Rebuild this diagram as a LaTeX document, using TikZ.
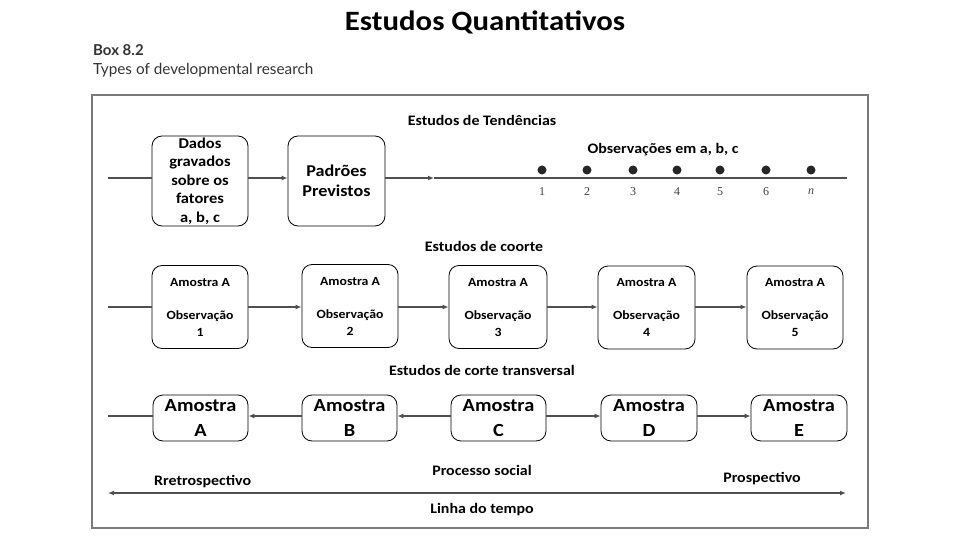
\documentclass[tikz,border=0pt]{standalone}
\usepackage{fontspec}
\setmainfont[FakeStretch=1.1]{Carlito}
\newfontfamily\boxfont{Lato}
\newfontfamily\numfont{Liberation Serif}
\usetikzlibrary{arrows.meta}
\definecolor{linegray}{HTML}{505050}
\definecolor{framegray}{HTML}{7A7A7A}
\definecolor{boxtxt}{HTML}{333333}
\begin{document}
\begin{tikzpicture}[x=1pt,y=-1pt,
  rbox/.style={draw=black, line width=0.8pt, rounded corners=10pt, align=center, inner sep=0pt},
  conn/.style={draw=linegray, line width=1.6pt},
  arr/.style={conn, -{Latex[length=6pt,width=5pt]}},
  lbl/.style={font=\bfseries\fontsize{14.5}{17}\selectfont, inner sep=0pt},
  dot/.style={circle, fill=black!85, inner sep=0pt, minimum size=9pt},
  num/.style={font=\numfont\fontsize{12}{14}\selectfont, inner sep=0pt, text=black!75},
  cohort/.style={rbox, minimum height=83pt, font=\bfseries\fontsize{12.5}{17}\selectfont},
  cross/.style={rbox, minimum height=46pt, font=\bfseries\fontsize{18.5}{25}\selectfont}
]
\useasboundingbox (0,0) rectangle (960,540);
% headings
\node[font=\bfseries\fontsize{28}{32}\selectfont, inner sep=0pt] (title) at (485,22) {Estudos Quantitativos};
\node[anchor=west, inner sep=0pt, font=\boxfont\bfseries\fontsize{15}{18}\selectfont, text=boxtxt] (boxno) at (93,50) {Box 8.2};
\node[anchor=west, inner sep=0pt, font=\boxfont\fontsize{15.3}{18}\selectfont, text=boxtxt] (boxtitle) at (93,70) {Types of developmental research};
% frame
\node[draw=framegray, line width=1.5pt, minimum width=776pt, minimum height=433pt, inner sep=0pt] (frame) at (480,311.5) {};

% ---- Estudos de Tendencias
\node[lbl] (trendt) at (482,120) {Estudos de Tendências};
\node[rbox, minimum width=96pt, minimum height=90pt, font=\bfseries\fontsize{15}{18.5}\selectfont] (dados) at (200,181) {Dados\\gravados\\sobre os\\fatores\\a, b, c};
\node[rbox, minimum width=97pt, minimum height=90pt, font=\bfseries\fontsize{16.5}{20}\selectfont] (padroes) at (336.5,181) {Padrões\\Previstos};
\coordinate (t0) at (108,178);
\coordinate (tmid) at (434,178);
\coordinate (tend) at (847,178);
\draw[conn] (t0) -- (t0 -| dados.west);
\draw[arr] (dados.east |- t0) -- (padroes.west |- t0);
\draw[arr] (padroes.east |- t0) -- (tmid);
\draw[conn] (tmid) -- (tend);
\node[lbl] (obs) at (663,150) {Observações em a, b, c};
\foreach \i/\x/\l in {1/542/1, 2/587/2, 3/633/3, 4/677/4, 5/720/5, 6/766/6, 7/811/\textit{n}} {
  \node[dot] (d\i) at (\x,170) {};
  \node[num] (n\i) at (\x,192) {\l};
}

% ---- Estudos de coorte
\node[lbl] (coortet) at (484,246) {Estudos de coorte};
\node[cohort, minimum width=96pt] (c1) at (200,307) {Amostra A\\[16pt]Observação\\1};
\node[cohort, minimum width=96pt] (c2) at (350,306) {Amostra A\\[16pt]Observação\\2};
\node[cohort, minimum width=98pt] (c3) at (498,307) {Amostra A\\[16pt]Observação\\3};
\node[cohort, minimum width=97pt] (c4) at (646.5,307.5) {Amostra A\\[16pt]Observação\\4};
\node[cohort, minimum width=96pt] (c5) at (795,307.5) {Amostra A\\[16pt]Observação\\5};
\coordinate (c0) at (108,307);
\draw[conn] (c0) -- (c0 -| c1.west);
\draw[arr] (c1.east |- c0) -- (c2.west |- c0);
\draw[arr] (c2.east |- c0) -- (c3.west |- c0);
\draw[arr] (c3.east |- c0) -- (c4.west |- c0);
\draw[arr] (c4.east |- c0) -- (c5.west |- c0);

% ---- Estudos de corte transversal
\node[lbl] (transt) at (482,370) {Estudos de corte transversal};
\node[cross, minimum width=95pt] (sa) at (200.5,418) {Amostra\\A};
\node[cross, minimum width=95pt] (sb) at (349.5,418) {Amostra\\B};
\node[cross, minimum width=95pt] (sc) at (498.5,418) {Amostra\\C};
\node[cross, minimum width=96pt] (sd) at (649,418) {Amostra\\D};
\node[cross, minimum width=96pt] (se) at (799,418) {Amostra\\E};
\coordinate (s0) at (108,416);
\draw[conn] (s0) -- (s0 -| sa.west);
\draw[arr] (sb.west |- s0) -- (sa.east |- s0);
\draw[arr] (sc.west |- s0) -- (sb.east |- s0);
\draw[arr] (sc.east |- s0) -- (sd.west |- s0);
\draw[arr] (sd.east |- s0) -- (se.west |- s0);

% ---- timeline
\node[lbl] (processo) at (482,470) {Processo social};
\node[lbl, anchor=west] (retro) at (154,482) {Rretrospectivo};
\node[lbl] (prosp) at (762,479) {Prospectivo};
\coordinate (tl0) at (108,493);
\coordinate (tl1) at (846,493);
\draw[conn, line width=1.4pt, {Latex[length=6pt,width=5pt]}-{Latex[length=6pt,width=5pt]}] (tl0) -- (tl1);
\node[lbl] (linha) at (482,510) {Linha do tempo};
\end{tikzpicture}
\end{document}
